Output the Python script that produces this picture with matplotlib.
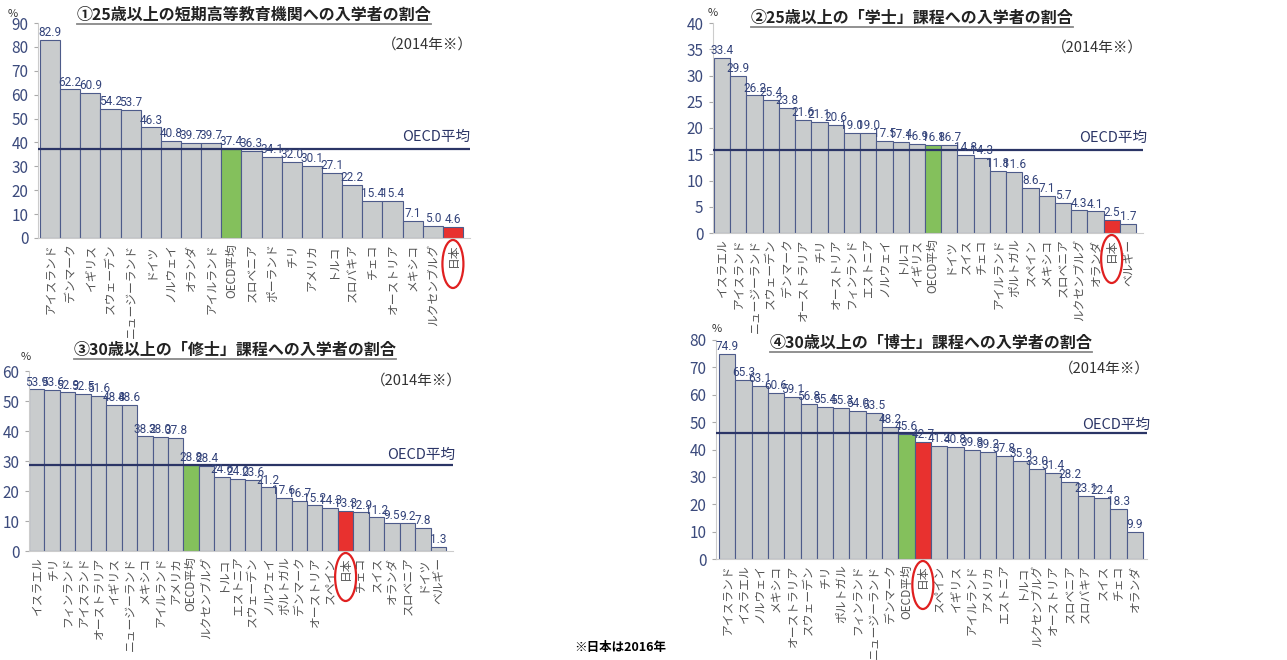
import matplotlib
matplotlib.use("Agg")
import matplotlib.pyplot as plt
from matplotlib import font_manager
from matplotlib.patches import Ellipse
from matplotlib.lines import Line2D

plt.rcParams['font.family'] = ['Noto Sans CJK JP', 'DejaVu Sans']

W, H = 1287, 660

# ① 25歳以上の短期高等教育機関への入学者の割合
labels_1 = ['アイスランド', 'デンマーク', 'イギリス', 'スウェーデン', 'ニュージーランド',
            'ドイツ', 'ノルウェイ', 'オランダ', 'アイルランド', 'OECD平均', 'スロベニア',
            'ポーランド', 'チリ', 'アメリカ', 'トルコ', 'スロバキア', 'チェコ',
            'オーストリア', 'メキシコ', 'ルクセンブルグ', '日本']
values_1 = [82.9, 62.2, 60.9, 54.2, 53.7, 46.3, 40.8, 39.7, 39.7, 37.4, 36.3,
            34.1, 32.0, 30.1, 27.1, 22.2, 15.4, 15.4, 7.1, 5.0, 4.6]
oecd_1 = 37.4

# ② 25歳以上の「学士」課程への入学者の割合
labels_2 = ['イスラエル', 'アイスランド', 'ニュージーランド', 'スウェーデン', 'デンマーク',
            'オーストラリア', 'チリ', 'オーストリア', 'フィンランド', 'エストニア',
            'ノルウェイ', 'トルコ', 'イギリス', 'OECD平均', 'ドイツ', 'スイス', 'チェコ',
            'アイルランド', 'ポルトガル', 'スペイン', 'メキシコ', 'スロベニア',
            'ルクセンブルグ', 'オランダ', '日本', 'ベルギー']
values_2 = [33.4, 29.9, 26.2, 25.4, 23.8, 21.6, 21.1, 20.6, 19.0, 19.0, 17.5,
            17.4, 16.9, 16.8, 16.7, 14.8, 14.3, 11.8, 11.6, 8.6, 7.1, 5.7,
            4.3, 4.1, 2.5, 1.7]
oecd_2 = 15.8

# ③ 30歳以上の「修士」課程への入学者の割合
labels_3 = ['イスラエル', 'チリ', 'フィンランド', 'アイスランド', 'オーストラリア',
            'イギリス', 'ニュージーランド', 'メキシコ', 'アイルランド', 'アメリカ',
            'OECD平均', 'ルクセンブルグ', 'トルコ', 'エストニア', 'スウェーデン',
            'ノルウェイ', 'ポルトガル', 'デンマーク', 'オーストリア', 'スペイン', '日本',
            'チェコ', 'スイス', 'オランダ', 'スロベニア', 'ドイツ', 'ベルギー']
values_3 = [53.9, 53.6, 52.9, 52.5, 51.6, 48.8, 48.6, 38.2, 38.0, 37.8, 28.8,
            28.4, 24.6, 24.0, 23.6, 21.2, 17.6, 16.7, 15.2, 14.3, 13.3, 12.9,
            11.2, 9.5, 9.2, 7.8, 1.3]
oecd_3 = 28.8

# ④ 30歳以上の「博士」課程への入学者の割合
labels_4 = ['アイスランド', 'イスラエル', 'ノルウェイ', 'メキシコ', 'オーストラリア',
            'スウェーデン', 'チリ', 'ポルトガル', 'フィンランド', 'ニュージーランド',
            'デンマーク', 'OECD平均', '日本', 'スペイン', 'イギリス', 'アイルランド',
            'アメリカ', 'エストニア', 'トルコ', 'ルクセンブルグ', 'オーストリア',
            'スロベニア', 'スロバキア', 'スイス', 'チェコ', 'オランダ']
values_4 = [74.9, 65.3, 63.1, 60.6, 59.1, 56.8, 55.4, 55.3, 54.0, 53.5, 48.2,
            45.6, 42.7, 41.3, 40.8, 39.8, 39.2, 37.8, 35.9, 33.0, 31.4, 28.2,
            23.1, 22.4, 18.3, 9.9]
oecd_4 = 46.0

titles = ['①25歳以上の短期高等教育機関への入学者の割合',
          '②25歳以上の「学士」課程への入学者の割合',
          '③30歳以上の「修士」課程への入学者の割合',
          '④30歳以上の「博士」課程への入学者の割合']
year_note = '（2014年※）'
footnote = '※日本は2016年'

BAR = '#c9cccd'
EDGE = '#4d5b8a'
GREEN = '#84c05c'
RED = '#e8312f'
NAVY = '#2b3566'
NUM = '#33437a'


def pick_font(names):
    for name in names:
        try:
            font_manager.findfont(name, fallback_to_default=False)
            return name
        except ValueError:
            continue
    return 'DejaVu Sans'


NUM_FONT = pick_font(['Liberation Sans Narrow', 'Roboto', 'Liberation Sans'])


def fx(x):
    return x / W


def fy(y):
    return 1 - y / H


def draw_panel(fig, labels, values, oecd, ymax, ystep, box, title, title_xy,
               year_xy, oecd_xy, pct_xy):
    # box: line start, first bar edge, last bar edge, line end, top, bottom (px)
    line_l, bar_l, bar_r, line_r, top, bottom = box
    ax = fig.add_axes([fx(line_l), fy(bottom), (line_r - line_l) / W,
                       (bottom - top) / H])
    n = len(values)
    w = (bar_r - bar_l) / n
    colors = [GREEN if l == 'OECD平均' else RED if l == '日本' else BAR
              for l in labels]
    x = list(range(n))
    ax.bar(x, values, width=1.0, color=colors, edgecolor=EDGE, linewidth=0.8,
           zorder=2)
    ax.axhline(oecd, color=NAVY, lw=1.6, zorder=3)
    for i, v in enumerate(values):
        ax.text(i, v + ymax * 0.004, f'{v:.1f}', ha='center', va='bottom',
                fontsize=8.5, color=NUM, family=NUM_FONT, zorder=4)

    ax.set_xlim(-0.5 - (bar_l - line_l) / w, n - 0.5 + (line_r - bar_r) / w)
    ax.set_ylim(0, ymax)
    ax.set_yticks(range(0, ymax + 1, ystep))
    ax.set_xticks(x)
    ax.set_xticklabels(labels, rotation=90, fontsize=8.5, color='#555555')
    ax.tick_params(axis='x', length=0, pad=4)
    ax.tick_params(axis='y', length=3, color='#aaaaaa', labelsize=11,
                   labelcolor='#3b4a7c', pad=4)
    for s in ['top', 'right']:
        ax.spines[s].set_visible(False)
    ax.spines['left'].set_color('#cccccc')
    ax.spines['bottom'].set_color('#cccccc')
    ax.patch.set_alpha(0)

    fig.text(fx(title_xy[0]), fy(title_xy[1]), title, ha='center', va='center',
             fontsize=11.5, fontweight='bold', color='#222222')
    fig.text(fx(year_xy[0]), fy(year_xy[1]), year_note, ha='right', va='center',
             fontsize=10.5, color='#333333')
    fig.text(fx(oecd_xy[0]), fy(oecd_xy[1]), 'OECD平均', ha='right', va='center',
             fontsize=10.5, color=NAVY)
    fig.text(fx(pct_xy[0]), fy(pct_xy[1]), '%', ha='center', va='center',
             fontsize=8, color='#333333')
    return ax


fig = plt.figure(figsize=(W / 100, H / 100), dpi=100)

axes = [
    draw_panel(fig, labels_1, values_1, oecd_1, 90, 10,
               (38, 40, 463, 470, 23, 238), titles[0], (254, 15),
               (473, 45), (470, 137), (13, 14)),
    draw_panel(fig, labels_2, values_2, oecd_2, 40, 5,
               (713, 714, 1136, 1143, 23, 233), titles[1], (912, 18),
               (1143, 48), (1147, 138), (713, 13)),
    draw_panel(fig, labels_3, values_3, oecd_3, 60, 10,
               (29, 29, 446, 453, 371, 551), titles[2], (235, 350),
               (462, 381), (455, 455), (26, 357)),
    draw_panel(fig, labels_4, values_4, oecd_4, 80, 10,
               (716, 719, 1143, 1147, 340, 559), titles[3], (931, 343),
               (1150, 369), (1150, 425), (717, 329)),
]

fig.text(fx(620), fy(648), footnote, ha='center', va='center', fontsize=9,
         fontweight='bold')

# underline titles and ring the 日本 label, using rendered extents
fig.canvas.draw()
renderer = fig.canvas.get_renderer()
for t in fig.texts:
    if t.get_text() in titles:
        bb = t.get_window_extent(renderer)
        fig.add_artist(Line2D([bb.x0 / W, bb.x1 / W], [(bb.y0 - 1) / H] * 2,
                              transform=fig.transFigure, color='#888888',
                              lw=1.3))
for ax in axes:
    ax_bb = ax.get_window_extent(renderer)
    for lab in ax.get_xticklabels():
        if lab.get_text() == '日本':
            bb = lab.get_window_extent(renderer)
            cx = (bb.x0 + bb.x1) / 2
            cy = ax_bb.y0 - 2 - 24
            fig.add_artist(Ellipse((cx / W, cy / H), 21 / W, 48 / H,
                                   transform=fig.transFigure, fill=False,
                                   edgecolor='#e02020', lw=1.6))

fig.savefig('out.png', dpi=100)
